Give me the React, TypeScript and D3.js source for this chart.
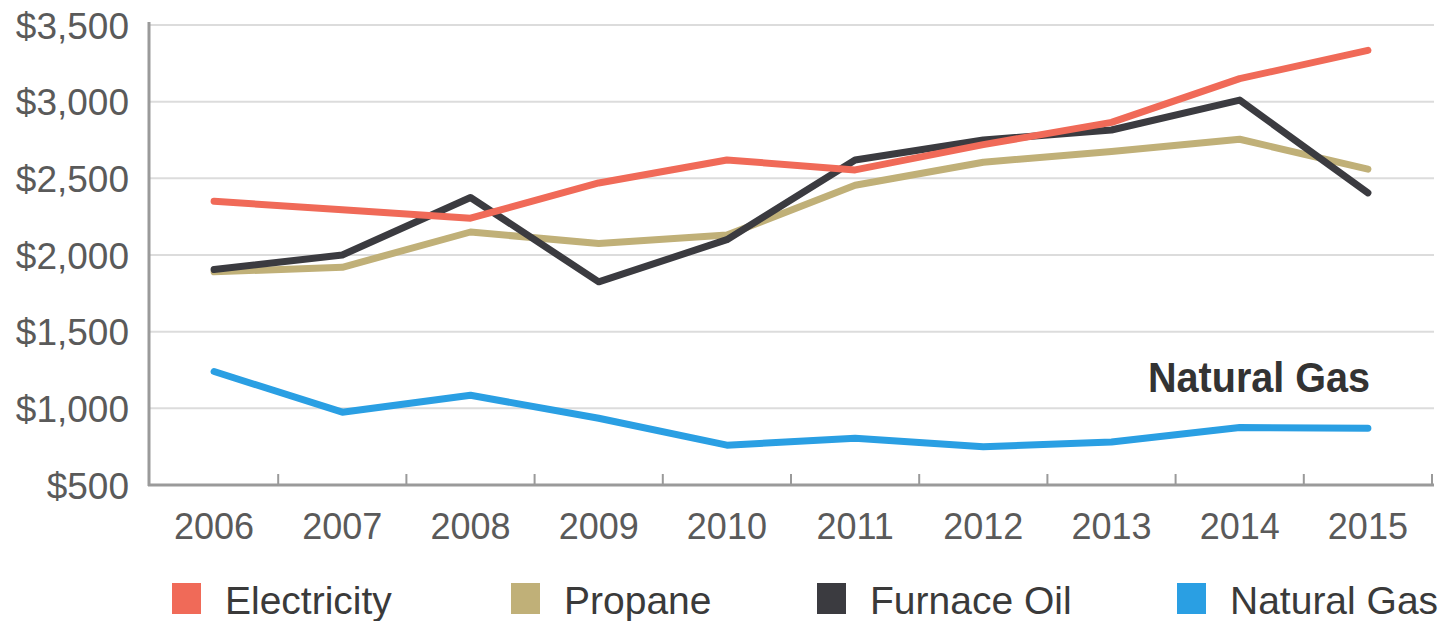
import React, { useRef, useEffect, FunctionComponent } from "react";
import * as d3 from "d3";

const width = 1449; // total svg size in px
const height = 621;
const margin = { left: 150, right: 17, top: 25, bottom: 136 }; // plot area box

// data
const years = ["2006", "2007", "2008", "2009", "2010", "2011", "2012", "2013", "2014", "2015"];
const electricity = [2350, 2295, 2240, 2470, 2620, 2555, 2720, 2865, 3150, 3335];
const propane = [1890, 1920, 2150, 2075, 2130, 2455, 2605, 2675, 2755, 2560];
const furnaceOil = [1905, 2000, 2375, 1825, 2100, 2620, 2750, 2815, 3010, 2405];
const naturalGas = [1240, 975, 1085, 935, 760, 805, 750, 780, 875, 870];
const yTicks = [500, 1000, 1500, 2000, 2500, 3000, 3500];

interface Series {
  name: string;
  values: number[];
  color: string;
}

// drawing order: later ones sit on top
const series: Series[] = [
  { name: "Natural Gas", values: naturalGas, color: "#2a9fe3" },
  { name: "Propane", values: propane, color: "#c0b078" },
  { name: "Furnace Oil", values: furnaceOil, color: "#3b3b40" },
  { name: "Electricity", values: electricity, color: "#f06a58" },
];
const legendOrder = ["Electricity", "Propane", "Furnace Oil", "Natural Gas"];
const legendX = [172, 511, 817, 1177]; // swatch left edges

const x = d3
  .scaleBand<string>()
  .domain(years)
  .range([margin.left, width - margin.right]);
const y = d3
  .scaleLinear()
  .domain([500, 3500])
  .range([height - margin.bottom, margin.top]);

const line = d3
  .line<number>()
  .x((_, i) => (x(years[i]) as number) + x.bandwidth() / 2)
  .y((d) => y(d));

const labelFont = "'Liberation Sans', Arial, sans-serif";

const App: FunctionComponent = () => {
  const xAxisRef = useRef<SVGGElement>(null);
  const yAxisRef = useRef<SVGGElement>(null);

  useEffect(() => {
    if (!xAxisRef.current || !yAxisRef.current) {
      return;
    }
    const yAxis = d3
      .axisLeft(y)
      .tickValues(yTicks)
      .tickFormat((d) => d3.format("$,")(d as number))
      .tickSize(0)
      .tickPadding(21);
    const yg = d3.select(yAxisRef.current).call(yAxis as never);
    yg.select(".domain").remove();
    yg.selectAll("text")
      .attr("font-size", 37)
      .attr("font-family", labelFont)
      .attr("fill", "#5a5a5a")
      .attr("dy", "0.36em");

    const xAxis = d3.axisBottom(x).tickSize(0).tickPadding(28);
    const xg = d3.select(xAxisRef.current).call(xAxis as never);
    xg.select(".domain").remove();
    xg.selectAll("text")
      .attr("font-size", 36)
      .attr("font-family", labelFont)
      .attr("fill", "#5a5a5a");
  }, []);

  const bottom = height - margin.bottom;
  const boundaries = years.slice(1).map((yr) => x(yr) as number);
  boundaries.push(width - margin.right);

  return (
    <svg
      width={width}
      height={height}
      style={{ position: "absolute", left: 0, top: 0, background: "#fff" }}
    >
      {/* gridlines */}
      {yTicks.slice(1).map((t) => (
        <line
          key={t}
          x1={margin.left}
          x2={width - margin.right + 2}
          y1={y(t)}
          y2={y(t)}
          stroke="#dcdcdc"
          strokeWidth={2}
        />
      ))}
      {/* axis frame */}
      <line x1={margin.left - 1} x2={margin.left - 1} y1={margin.top - 3} y2={bottom + 1} stroke="#9a9a9a" strokeWidth={3} />
      <line x1={margin.left - 2} x2={width - margin.right + 2} y1={bottom} y2={bottom} stroke="#9a9a9a" strokeWidth={3} />
      {boundaries.map((bx, i) => (
        <line key={i} x1={bx} x2={bx} y1={bottom} y2={bottom - 11} stroke="#9a9a9a" strokeWidth={2} />
      ))}
      <g ref={yAxisRef} transform={`translate(${margin.left}, 0)`}></g>
      <g ref={xAxisRef} transform={`translate(0, ${bottom})`}></g>

      {/* series lines */}
      {series.map((s) => (
        <path
          key={s.name}
          d={line(s.values) || ""}
          fill="none"
          stroke={s.color}
          strokeWidth={7}
          strokeLinejoin="round"
          strokeLinecap="round"
        />
      ))}

      {/* annotation */}
      <text
        x={1370}
        y={392}
        textAnchor="end"
        fontFamily={labelFont}
        fontWeight="bold"
        fontSize={43}
        fill="#333"
        textLength={222}
        lengthAdjust="spacingAndGlyphs"
      >
        Natural Gas
      </text>

      {/* legend */}
      {legendOrder.map((name, i) => {
        const s = series.find((d) => d.name === name) as Series;
        return (
          <g key={name} transform={`translate(${legendX[i]}, 583)`}>
            <rect width={29} height={31} fill={s.color} />
            <text x={53} y={31} fontFamily={labelFont} fontSize={39} fill="#3a3a3a">
              {name}
            </text>
          </g>
        );
      })}
    </svg>
  );
};
export default App;
